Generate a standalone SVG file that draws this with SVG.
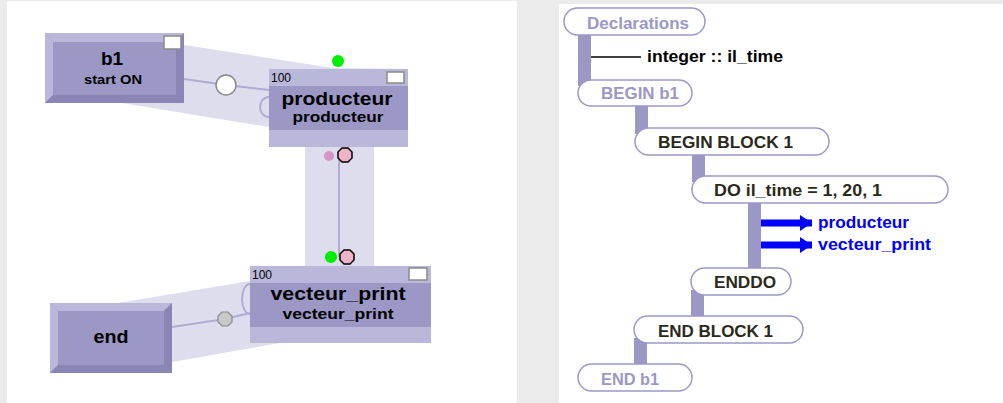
<svg xmlns="http://www.w3.org/2000/svg" width="1003" height="403" viewBox="0 0 1003 403">
  <style>
    .band{fill:#dedded}
    .wire{stroke:#aeacd3;stroke-width:2;fill:none}
    .face{fill:#9b98c6}
    .lite{fill:#bab8da}
    .dark{fill:#8986b6}
    .box{fill:#fff;stroke:#8a8a8a;stroke-width:1.5}
    .t{font-family:"Liberation Sans",Arial,sans-serif;font-weight:bold;fill:#000}
    .num{font-family:"Liberation Sans",Arial,sans-serif;font-size:12px;fill:#000}
    .pill{fill:#fff;stroke:#9b98c6;stroke-width:1.5}
    .bar{fill:#9b98c6}
    .pt{font-family:"Liberation Sans",Arial,sans-serif;font-weight:bold;font-size:16px}
    .lav{fill:#9b98c6}
    .drk{fill:#2a2a1a}
    .blue{fill:#0000ff}
  </style>
  <defs>
    <marker id="arrow" viewBox="0 0 12 16" refX="12" refY="8" markerWidth="12" markerHeight="16" markerUnits="userSpaceOnUse" orient="auto">
      <path d="M0,0 L12,8 L0,16 Z" fill="#0000ff"/>
    </marker>
  </defs>

  <!-- page background and the two panels -->
  <rect width="1003" height="403" fill="#ebebeb"/>
  <rect x="7" y="1" width="510" height="402" fill="#fff"/>
  <rect x="559" y="4" width="444" height="399" fill="#fff"/>

  <!-- connectors of the block graph -->
  <g id="connectors">
    <polygon class="band" points="184,45 333,68 408,69 408,147 269,147 269,127 122,103 184,103"/>
    <rect class="band" x="305" y="147" width="69" height="119"/>
    <polygon class="band" points="118,303 250,281 250,343 280,343 172,362 172,303"/>
    <polyline class="wire" points="184,79 226,85 269,90"/>
    <path class="wire" d="M269,97 A9,10 0 0 0 269,117"/>
    <line class="wire" x1="339" y1="155" x2="339" y2="257"/>
    <polyline class="wire" points="172,327 225,319 250,313"/>
    <path class="wire" d="M250,284 A8,15 0 0 0 250,314"/>
    <circle cx="226" cy="85" r="10" fill="#fff" stroke="#8a8a8a" stroke-width="1.5"/>
    <polygon points="222,312 228,312 232,316 232,322 228,326 222,326 218,322 218,316" fill="#c8c8c8" stroke="#8a8a8a" stroke-width="1.2"/>
    <circle cx="338" cy="61" r="6" fill="#00ee00"/>
    <circle cx="329" cy="156" r="5" fill="#d494c4"/>
    <polygon points="342,148 348,148 352,152 352,158 348,162 342,162 338,158 338,152" fill="#f0b4c8" stroke="#000" stroke-width="1.5"/>
    <circle cx="331" cy="257" r="6" fill="#00ee00"/>
    <polygon points="344,250 350,250 354,254 354,260 350,264 344,264 340,260 340,254" fill="#f0b4c8" stroke="#000" stroke-width="1.5"/>
  </g>

  <!-- start block -->
  <g id="b1">
    <rect class="face" x="45" y="33" width="139" height="70"/>
    <polygon class="lite" points="45,33 184,33 176,42 53,42"/>
    <polygon class="lite" points="45,33 53,42 53,95 45,103"/>
    <polygon class="dark" points="184,33 184,103 176,95 176,42"/>
    <polygon class="dark" points="45,103 53,95 176,95 184,103"/>
    <rect class="box" x="164" y="36" width="17" height="13"/>
    <text class="t" x="112" y="65" font-size="19" text-anchor="middle">b1</text>
    <text class="t" x="113" y="84" font-size="12" text-anchor="middle" textLength="58" lengthAdjust="spacingAndGlyphs">start ON</text>
  </g>

  <!-- producteur task -->
  <g id="producteur">
    <rect class="lite" x="269" y="69" width="139" height="78"/>
    <rect class="face" x="269" y="86" width="139" height="44"/>
    <rect class="box" x="387" y="72" width="17" height="11"/>
    <text class="num" x="271" y="82">100</text>
    <text class="t" x="337" y="105" font-size="18" text-anchor="middle" textLength="111" lengthAdjust="spacingAndGlyphs">producteur</text>
    <text class="t" x="338" y="122" font-size="15" text-anchor="middle" textLength="91" lengthAdjust="spacingAndGlyphs">producteur</text>
  </g>

  <!-- vecteur_print task -->
  <g id="vecteur_print">
    <rect class="lite" x="250" y="266" width="181" height="77"/>
    <rect class="face" x="250" y="283" width="181" height="44"/>
    <rect class="box" x="409" y="268" width="18" height="12"/>
    <text class="num" x="252" y="279">100</text>
    <text class="t" x="338" y="300" font-size="18" text-anchor="middle" textLength="135" lengthAdjust="spacingAndGlyphs">vecteur_print</text>
    <text class="t" x="338" y="319" font-size="15" text-anchor="middle" textLength="111" lengthAdjust="spacingAndGlyphs">vecteur_print</text>
  </g>

  <!-- end block -->
  <g id="end">
    <rect class="face" x="50" y="303" width="122" height="70"/>
    <polygon class="lite" points="50,303 172,303 164,311 58,311"/>
    <polygon class="lite" points="50,303 58,311 58,365 50,373"/>
    <polygon class="dark" points="172,303 172,373 164,365 164,311"/>
    <polygon class="dark" points="50,373 58,365 164,365 172,373"/>
    <text class="t" x="111" y="343" font-size="19" text-anchor="middle" textLength="35" lengthAdjust="spacingAndGlyphs">end</text>
  </g>

  <!-- program tree: nesting bars -->
  <g id="tree-bars">
    <rect class="bar" x="578" y="30" width="13" height="56"/>
    <rect class="bar" x="635" y="100" width="13" height="34"/>
    <rect class="bar" x="692" y="150" width="13" height="32"/>
    <rect class="bar" x="748" y="198" width="13" height="76"/>
    <rect class="bar" x="691" y="290" width="13" height="32"/>
    <rect class="bar" x="634" y="338" width="13" height="32"/>
  </g>

  <g id="declarations">
    <rect class="pill" x="564" y="8" width="141" height="27" rx="13.5"/>
    <text class="pt lav" x="587" y="29" textLength="102" lengthAdjust="spacingAndGlyphs">Declarations</text>
  </g>
  <g id="decl-integer">
    <line x1="591" y1="57" x2="641" y2="57" stroke="#000" stroke-width="1.5"/>
    <text class="pt" x="647" y="62" fill="#000" textLength="136" lengthAdjust="spacingAndGlyphs">integer :: il_time</text>
  </g>
  <g id="begin-b1">
    <rect class="pill" x="578" y="80" width="114" height="26" rx="13"/>
    <text class="pt lav" x="601" y="99" textLength="78" lengthAdjust="spacingAndGlyphs">BEGIN b1</text>
  </g>
  <g id="begin-block1">
    <rect class="pill" x="635" y="128" width="194" height="27" rx="13.5"/>
    <text class="pt drk" x="658" y="148" textLength="135" lengthAdjust="spacingAndGlyphs">BEGIN BLOCK 1</text>
  </g>
  <g id="do-loop">
    <rect class="pill" x="692" y="176" width="256" height="27" rx="13.5"/>
    <text class="pt drk" x="714" y="196" textLength="168" lengthAdjust="spacingAndGlyphs">DO il_time = 1, 20, 1</text>
  </g>
  <g id="calls">
    <line x1="761" y1="223" x2="812" y2="223" stroke="#0000ff" stroke-width="7" marker-end="url(#arrow)"/>
    <line x1="761" y1="245" x2="812" y2="245" stroke="#0000ff" stroke-width="7" marker-end="url(#arrow)"/>
    <text class="pt blue" x="818" y="228" textLength="91" lengthAdjust="spacingAndGlyphs">producteur</text>
    <text class="pt blue" x="818" y="250" textLength="113" lengthAdjust="spacingAndGlyphs">vecteur_print</text>
  </g>
  <g id="enddo">
    <rect class="pill" x="691" y="268" width="100" height="27" rx="13.5"/>
    <text class="pt drk" x="714" y="288" textLength="62" lengthAdjust="spacingAndGlyphs">ENDDO</text>
  </g>
  <g id="end-block1">
    <rect class="pill" x="634" y="316" width="169" height="27" rx="13.5"/>
    <text class="pt drk" x="658" y="337" textLength="115" lengthAdjust="spacingAndGlyphs">END BLOCK 1</text>
  </g>
  <g id="end-b1">
    <rect class="pill" x="578" y="364" width="114" height="27" rx="13.5"/>
    <text class="pt lav" x="601" y="385" textLength="58" lengthAdjust="spacingAndGlyphs">END b1</text>
  </g>
</svg>
